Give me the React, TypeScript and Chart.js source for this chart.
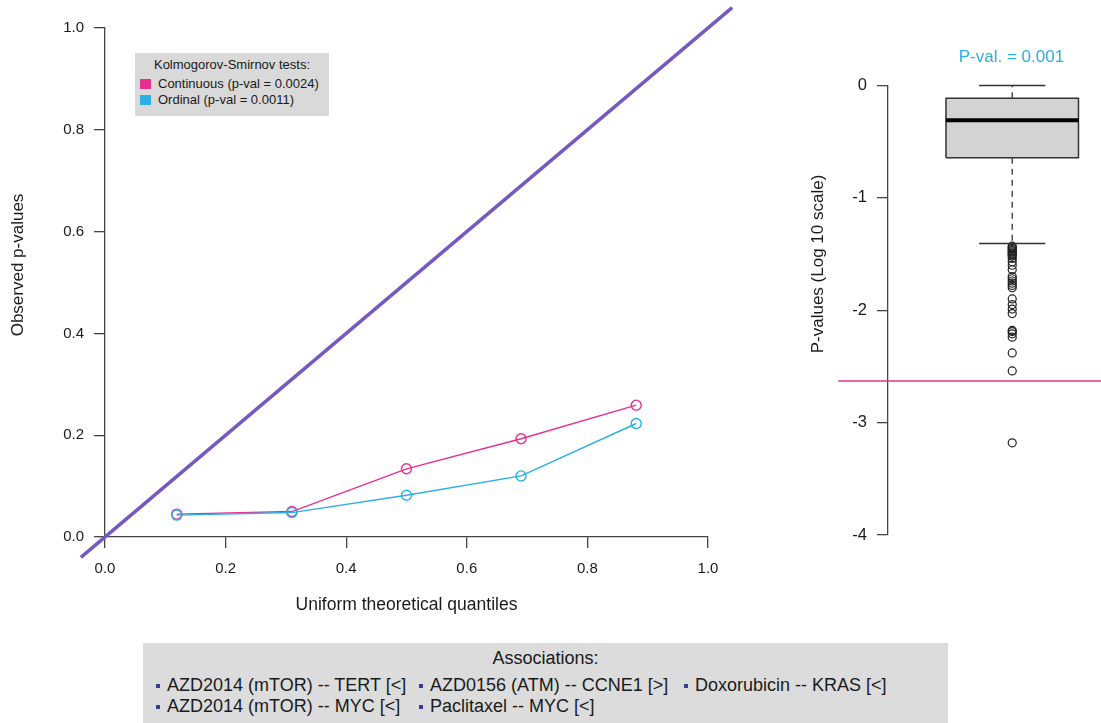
import React, { useEffect, useRef } from "react";
import { Chart, registerables } from "chart.js";

Chart.register(...registerables);

// ---------- data ----------
const QQ_X = [0.119, 0.31, 0.5, 0.69, 0.881];
const CONTINUOUS_P = [0.045, 0.05, 0.134, 0.193, 0.259];
const ORDINAL_P = [0.043, 0.048, 0.082, 0.12, 0.223];
const DIAGONAL = [-0.04, 1.04];
const QQ_RANGE = [0, 1];

const KS_TITLE = "Kolmogorov-Smirnov tests:";
const KS_LABELS = ["Continuous (p-val = 0.0024)", "Ordinal (p-val = 0.0011)"];

// box plot of log10 p-values: [lower whisker, Q1, median, Q3, upper whisker]
const BOX_FIVE = [-1.406, -0.644, -0.311, -0.114, 0.0];
const OUTLIERS = [
  -1.43, -1.44, -1.45, -1.46, -1.47, -1.48, -1.49, -1.5, -1.51, -1.52, -1.54,
  -1.57, -1.6, -1.64, -1.7, -1.72, -1.74, -1.76, -1.78, -1.8, -1.9, -1.95,
  -1.99, -2.03, -2.18, -2.19, -2.21, -2.24, -2.38, -2.54, -3.18,
];
const THRESHOLD = -2.63;
const LOG_RANGE = [-4, 0];
const BOX_TITLE = "P-val. = 0.001";

const ASSOC_TITLE = "Associations:";
// column-major order (2 rows)
const ASSOCIATIONS = [
  "AZD2014 (mTOR) -- TERT [<]",
  "AZD2014 (mTOR) -- MYC [<]",
  "AZD0156 (ATM) -- CCNE1 [>]",
  "Paclitaxel -- MYC [<]",
  "Doxorubicin -- KRAS [<]",
];

// ---------- style ----------
const FONT = '"Liberation Sans", Arial, Helvetica, sans-serif';
const PINK = "#E6308E";
const CYAN = "#2AB0E4";
const PURPLE = "#7558C0";
const AXIS = "#444444";
const TEXT = "#1a1a1a";
const BOX_FILL = "#D3D3D3";
const BOX_LINE = "#333333";
const BOX_X = 1;
const BOX_HALF = 0.4;
const CAP_HALF = 0.2;

const rotatedTitle = (id: string, text: string, x: number, y: number, size: number) => ({
  id,
  afterDraw(chart: any) {
    const ctx = chart.ctx;
    ctx.save();
    ctx.translate(x, y);
    ctx.rotate(-Math.PI / 2);
    ctx.font = `${size}px ${FONT}`;
    ctx.fillStyle = TEXT;
    ctx.textAlign = "center";
    ctx.textBaseline = "middle";
    ctx.fillText(text, 0, 0);
    ctx.restore();
  },
});

function QQChart() {
  const ref = useRef<HTMLCanvasElement>(null);
  useEffect(() => {
    const pts = (ys: number[]) => QQ_X.map((x, i) => ({ x, y: ys[i] }));
    const chart = new Chart(ref.current as HTMLCanvasElement, {
      type: "scatter",
      data: {
        datasets: [
          {
            label: "Ordinal",
            data: pts(ORDINAL_P),
            showLine: true,
            borderColor: CYAN,
            borderWidth: 1.4,
            pointRadius: 5,
            pointBorderWidth: 1.4,
            pointBorderColor: CYAN,
            pointBackgroundColor: "rgba(0,0,0,0)",
            clip: false,
            order: 0,
          },
          {
            label: "Continuous",
            data: pts(CONTINUOUS_P),
            showLine: true,
            borderColor: PINK,
            borderWidth: 1.4,
            pointRadius: 5,
            pointBorderWidth: 1.4,
            pointBorderColor: PINK,
            pointBackgroundColor: "rgba(0,0,0,0)",
            clip: false,
            order: 1,
          },
          {
            label: "Expected",
            data: DIAGONAL.map((v) => ({ x: v, y: v })),
            showLine: true,
            borderColor: PURPLE,
            borderWidth: 3.5,
            pointRadius: 0,
            clip: false,
            order: 2,
          },
        ],
      },
      plugins: [rotatedTitle("qqYTitle", "Observed p-values", 18.5, 265, 17)],
      options: {
        responsive: false,
        animation: false,
        layout: { padding: { left: 0, top: 28, right: 72, bottom: 0 } },
        plugins: { legend: { display: false }, tooltip: { enabled: false } },
        scales: {
          x: {
            type: "linear",
            position: "bottom",
            min: QQ_RANGE[0],
            max: QQ_RANGE[1],
            ticks: {
              stepSize: 0.2,
              callback: (v: any) => Number(v).toFixed(1),
              font: { family: FONT, size: 15 },
              color: TEXT,
              padding: 12,
              maxRotation: 0,
            },
            grid: { drawOnChartArea: false, tickLength: 11, color: AXIS, lineWidth: 1.3 },
            border: { color: AXIS, width: 1.3 },
            title: {
              display: true,
              text: "Uniform theoretical quantiles",
              font: { family: FONT, size: 17.5 },
              color: TEXT,
              padding: { top: 0, bottom: 24.5 },
            },
            afterFit: (s: any) => {
              s.height = 103;
            },
          },
          y: {
            type: "linear",
            position: "left",
            min: QQ_RANGE[0],
            max: QQ_RANGE[1],
            ticks: {
              stepSize: 0.2,
              callback: (v: any) => Number(v).toFixed(1),
              font: { family: FONT, size: 15 },
              color: TEXT,
              padding: 10,
            },
            grid: { drawOnChartArea: false, tickLength: 11, color: AXIS, lineWidth: 1.3 },
            border: { color: AXIS, width: 1.3 },
            afterFit: (s: any) => {
              s.width = 105;
            },
          },
        },
      },
    } as any);
    return () => chart.destroy();
  }, []);
  return (
    <canvas
      ref={ref}
      width={780}
      height={640}
      style={{ position: "absolute", left: 0, top: 0, width: 780, height: 640 }}
    />
  );
}

function BoxChart() {
  const ref = useRef<HTMLCanvasElement>(null);
  useEffect(() => {
    const [lo, q1, med, q3, hi] = BOX_FIVE;
    const line = (data: { x: number; y: number }[], extra: any = {}) => ({
      data,
      showLine: true,
      pointRadius: 0,
      borderColor: BOX_LINE,
      borderWidth: 1.5,
      clip: false,
      ...extra,
    });
    const xl = BOX_X - BOX_HALF;
    const xr = BOX_X + BOX_HALF;
    const chart = new Chart(ref.current as HTMLCanvasElement, {
      type: "scatter",
      data: {
        datasets: [
          line([{ x: xl, y: med }, { x: xr, y: med }], { label: "Median", borderColor: "#000", borderWidth: 4, order: 0 }),
          line(
            [
              { x: xl, y: q1 },
              { x: xl, y: q3 },
              { x: xr, y: q3 },
              { x: xr, y: q1 },
              { x: xl, y: q1 },
            ],
            { label: "Box", order: 1 }
          ),
          line([{ x: xl, y: q3 }, { x: xr, y: q3 }], {
            label: "Box fill",
            borderWidth: 0,
            borderColor: "rgba(0,0,0,0)",
            backgroundColor: BOX_FILL,
            fill: { value: q1 },
            order: 2,
          }),
          line([{ x: BOX_X, y: q3 }, { x: BOX_X, y: hi }], { label: "Upper whisker", borderDash: [6, 5], borderWidth: 1.3, order: 3 }),
          line([{ x: BOX_X, y: q1 }, { x: BOX_X, y: lo }], { label: "Lower whisker", borderDash: [6, 5], borderWidth: 1.3, order: 3 }),
          line([{ x: BOX_X - CAP_HALF, y: hi }, { x: BOX_X + CAP_HALF, y: hi }], { label: "Upper cap", order: 3 }),
          line([{ x: BOX_X - CAP_HALF, y: lo }, { x: BOX_X + CAP_HALF, y: lo }], { label: "Lower cap", order: 3 }),
          {
            label: "Outliers",
            data: OUTLIERS.map((y) => ({ x: BOX_X, y })),
            pointRadius: 4,
            pointBorderWidth: 1.2,
            pointBorderColor: "#222",
            pointBackgroundColor: "rgba(255,255,255,0)",
            clip: false,
            order: 4,
          },
          line([{ x: -0.05, y: THRESHOLD }, { x: 1.74, y: THRESHOLD }], {
            label: "Threshold",
            borderColor: PINK,
            borderWidth: 1.5,
            order: 5,
          }),
        ],
      },
      plugins: [rotatedTitle("boxYTitle", "P-values (Log 10 scale)", 38, 264, 17)],
      options: {
        responsive: false,
        animation: false,
        layout: { padding: { left: 0, top: 0, right: 0, bottom: 188 } },
        plugins: {
          legend: { display: false },
          tooltip: { enabled: false },
          title: {
            display: true,
            text: BOX_TITLE,
            color: CYAN,
            fullSize: false,
            font: { family: FONT, size: 17, weight: "normal" },
            padding: { top: 46.8, bottom: 18.2 },
          },
        },
        scales: {
          x: { type: "linear", display: false, min: 0.25, max: 1.74 },
          y: {
            type: "linear",
            position: "left",
            min: LOG_RANGE[0],
            max: LOG_RANGE[1],
            ticks: {
              stepSize: 1,
              font: { family: FONT, size: 16.5 },
              color: TEXT,
              padding: 10,
            },
            grid: { drawOnChartArea: false, tickLength: 11, color: AXIS, lineWidth: 1.3 },
            border: { color: AXIS, width: 1.3 },
            afterFit: (s: any) => {
              s.width = 108;
            },
          },
        },
      },
    } as any);
    return () => chart.destroy();
  }, []);
  return (
    <canvas
      ref={ref}
      width={360}
      height={723}
      style={{ position: "absolute", left: 780, top: 0, width: 360, height: 723 }}
    />
  );
}

function KSLegend() {
  const colors = [PINK, CYAN];
  return (
    <div
      style={{
        position: "absolute",
        left: 135,
        top: 53,
        width: 194,
        height: 63,
        background: "#D9D9D9",
        fontFamily: FONT,
        fontSize: 13,
        color: TEXT,
        zIndex: 2,
      }}
    >
      <div style={{ position: "absolute", left: 0, width: "100%", top: 4, textAlign: "center", lineHeight: "16px" }}>
        {KS_TITLE}
      </div>
      {KS_LABELS.map((t, i) => (
        <div key={t} style={{ position: "absolute", left: 5, top: 23 + i * 16, height: 16, display: "flex", alignItems: "center" }}>
          <span style={{ display: "inline-block", width: 11, height: 10, background: colors[i], marginRight: 7 }} />
          <span style={{ whiteSpace: "nowrap", lineHeight: "16px" }}>{t}</span>
        </div>
      ))}
    </div>
  );
}

function AssocLegend() {
  const colLefts = [24, 287, 552];
  return (
    <div
      style={{
        position: "absolute",
        left: 143,
        top: 643,
        width: 805,
        height: 80,
        background: "#DCDCDC",
        fontFamily: FONT,
        fontSize: 18,
        color: TEXT,
        zIndex: 2,
      }}
    >
      <div style={{ position: "absolute", left: 0, width: "100%", top: 4.5, textAlign: "center", lineHeight: "21px" }}>
        {ASSOC_TITLE}
      </div>
      {ASSOCIATIONS.map((t, i) => {
        const col = Math.floor(i / 2);
        const row = i % 2;
        return (
          <div
            key={t}
            style={{ position: "absolute", left: colLefts[col], top: 31.5 + row * 21, height: 21, lineHeight: "21px", whiteSpace: "nowrap" }}
          >
            <span
              style={{
                position: "absolute",
                left: -11,
                top: 9,
                width: 4,
                height: 4,
                background: "#3B3B9B",
              }}
            />
            {t}
          </div>
        );
      })}
    </div>
  );
}

export default function App() {
  return (
    <div
      style={{
        position: "absolute",
        left: 0,
        top: 0,
        width: 1101,
        height: 723,
        overflow: "hidden",
        background: "#fff",
      }}
    >
      <QQChart />
      <BoxChart />
      <KSLegend />
      <AssocLegend />
    </div>
  );
}
